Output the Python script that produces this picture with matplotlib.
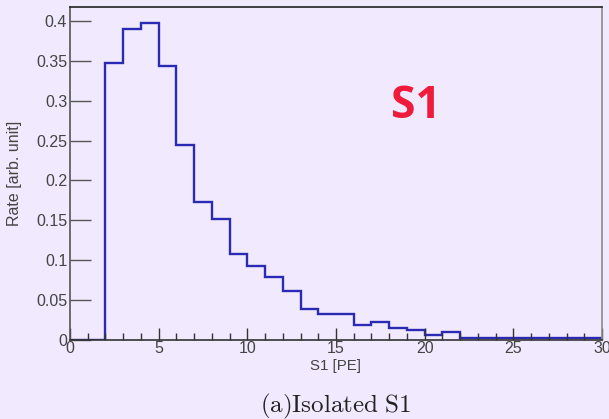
import numpy as np
import matplotlib.pyplot as plt
from matplotlib.ticker import MultipleLocator

# S1 spectrum, 1 PE bins from 0 to 30
bin_edges = np.arange(0, 31, 1)
rate = [0.0, 0.0, 0.347, 0.390, 0.397, 0.344, 0.245, 0.173, 0.152, 0.108,
        0.093, 0.079, 0.062, 0.039, 0.033, 0.033, 0.019, 0.022, 0.015, 0.012,
        0.006, 0.0096, 0.0025, 0.0025, 0.0025, 0.0025, 0.0025, 0.0025, 0.0025, 0.0025]
ytick_vals = [0, 0.05, 0.1, 0.15, 0.2, 0.25, 0.3, 0.35, 0.4]
ytick_text = ['0', '0.05', '0.1', '0.15', '0.2', '0.25', '0.3', '0.35', '0.4']

bg = '#f1e9fd'
plt.rcParams['mathtext.fontset'] = 'cm'

fig = plt.figure(figsize=(6.09, 4.19), dpi=100, facecolor=bg)
ax = fig.add_axes([70/609, 1 - 340/419, 532/609, 333/419])
ax.set_facecolor(bg)

ax.stairs(rate, bin_edges, color='#2a2ab4', lw=1.7, baseline=None)

ax.set_xlim(0, 30)
ax.set_ylim(0, 0.4175)
ax.xaxis.set_major_locator(MultipleLocator(5))
ax.xaxis.set_minor_locator(MultipleLocator(1))
ax.set_yticks(ytick_vals, ytick_text)

ax.tick_params(axis='x', which='major', direction='in', length=9, width=1,
               color='#333333', labelsize=11.5, labelcolor='#444444', pad=1)
ax.tick_params(axis='x', which='minor', direction='in', length=5, width=1,
               color='#333333')
ax.tick_params(axis='y', which='major', direction='in', length=15, width=1,
               color='#555555', labelsize=11.5, labelcolor='#444444', pad=2)
for lab in ax.get_xticklabels() + ax.get_yticklabels():
    lab.set_family('Liberation Sans')

ax.spines['left'].set_color('#555555')
ax.spines['bottom'].set_color('#333333')
ax.spines['top'].set_color('#222222')
ax.spines['right'].set_color('#8a8a8a')
for s in ax.spines.values():
    s.set_linewidth(1.2)

ax.set_xlabel('S1 [PE]', fontsize=10.8, color='#444444', family='Liberation Sans', labelpad=2)
ax.set_ylabel('Rate [arb. unit]', fontsize=11.5, color='#444444', family='Liberation Sans', labelpad=10)

ax.text(0.65, 0.70, 'S1', transform=ax.transAxes, color='#ee1c3a', fontsize=32,
        fontweight='bold', family='Open Sans', ha='center', va='center')

fig.text(336/609, 1 - 406/419, r'$\mathrm{(a)Isolated\ S1}$', ha='center', va='center',
         fontsize=18, color='#222222')

fig.savefig('out.png', dpi=100, facecolor=bg)
